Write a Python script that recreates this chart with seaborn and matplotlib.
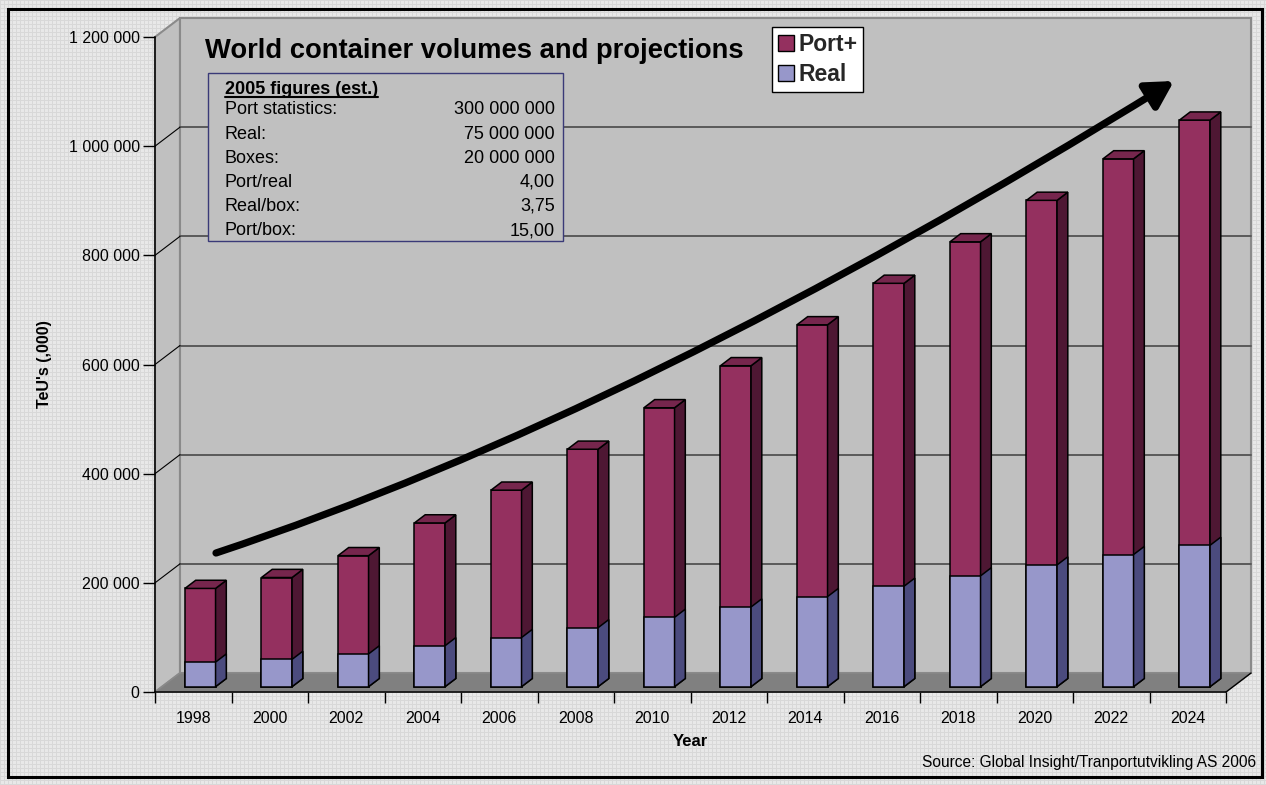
import numpy as np
import pandas as pd
import matplotlib
matplotlib.use("Agg")
import matplotlib.pyplot as plt
import seaborn as sns
from matplotlib.patches import Polygon, Rectangle, FancyArrowPatch, Patch
from matplotlib.path import Path
from matplotlib.transforms import ScaledTranslation, IdentityTransform
from matplotlib.ticker import FuncFormatter, FixedLocator

# ---- data (TeU's, thousands) ----
years = ["1998", "2000", "2002", "2004", "2006", "2008", "2010",
         "2012", "2014", "2016", "2018", "2020", "2022", "2024"]
real = [45000, 50000, 60000, 75000, 90000, 108000, 127000,
        146000, 165000, 184000, 203000, 223000, 242000, 259000]
port_plus = [135000, 150000, 180000, 225000, 270000, 327000, 384000,
             442000, 498000, 555000, 612000, 668000, 725000, 779000]
series_names = ["Port+", "Real"]
y_ticks = [0, 200000, 400000, 600000, 800000, 1000000, 1200000]

box_title = "2005 figures (est.)"
box_labels = ["Port statistics:", "Real:", "Boxes:", "Port/real", "Real/box:", "Port/box:"]
box_values = ["300 000 000", "75 000 000", "20 000 000", "4,00", "3,75", "15,00"]

title = "World container volumes and projections"
source = "Source: Global Insight/Tranportutvikling AS 2006"

# ---- styling ----
PORT_FRONT, PORT_SIDE, PORT_TOP = "#94305F", "#4E1733", "#76264D"
REAL_FRONT, REAL_SIDE = "#9797CA", "#4B4B7E"
WALL, FLOOR, WALL_EDGE, GRID = "#C0C0C0", "#808080", "#8A8A8A", "#5A5A5A"

sns.set_theme(style="white")
plt.rcParams["font.family"] = ["Liberation Sans", "DejaVu Sans"]

W, H = 1266, 785
fig = plt.figure(figsize=(W / 100, H / 100), dpi=100)


def fx(x, y):
    """pixel position (from top-left) -> figure fraction"""
    return x / W, 1 - y / H


# textured page background
yy, xx = np.mgrid[0:H, 0:W]
tex = np.full((H, W), 0.91)
tex[(xx % 4 == 0) | (yy % 4 == 0)] = 0.85
fig.figimage(np.dstack([tex] * 3), xo=0, yo=0, zorder=-5)

# front plane of the 3-D box
left, right, bottom, top = 155, 1226, 692, 37
ax = fig.add_axes([left / W, 1 - bottom / H, (right - left) / W, (bottom - top) / H])
ax.patch.set_visible(False)

df = pd.DataFrame({"year": years, "real": real, "port_plus": port_plus})
df["total"] = df["real"] + df["port_plus"]

sns.barplot(data=df, x="year", y="total", color=PORT_FRONT, saturation=1,
            width=0.4, errorbar=None, edgecolor="black", linewidth=1.1, ax=ax)
n_port = len(ax.patches)
sns.barplot(data=df, x="year", y="real", color=REAL_FRONT, saturation=1,
            width=0.4, errorbar=None, edgecolor="black", linewidth=1.1, ax=ax)
port_bars = ax.patches[:n_port]
real_bars = ax.patches[n_port:]

ax.set_xlim(-0.5, len(years) - 0.5)
ax.set_ylim(0, 1200000)

# depth of the box in pixels
DX, DY = 25.0, 19.0
D_FRONT, D_BACK = 0.28, 0.71


def P(x, y, d):
    X, Y = ax.transData.transform((x, y))
    return (X + d * DX, Y + d * DY)


def add_poly(pts, **kw):
    poly = Polygon(pts, closed=True, transform=IdentityTransform(), clip_on=False, **kw)
    ax.add_artist(poly)
    return poly


x0, x1 = ax.get_xlim()
y_top = ax.get_ylim()[1]
# side wall, back wall, floor
add_poly([P(x0, 0, 0), P(x0, 0, 1), P(x0, y_top, 1), P(x0, y_top, 0)],
         facecolor=WALL, edgecolor=WALL_EDGE, lw=1.5, zorder=0.5)
add_poly([P(x0, 0, 1), P(x1, 0, 1), P(x1, y_top, 1), P(x0, y_top, 1)],
         facecolor=WALL, edgecolor=WALL_EDGE, lw=1.5, zorder=0.5)
for v in y_ticks[1:-1]:
    ax.plot(*zip(P(x0, v, 1), P(x1, v, 1)), color=GRID, lw=1.4,
            transform=IdentityTransform(), clip_on=False, zorder=0.6)
    ax.plot(*zip(P(x0, v, 0), P(x0, v, 1)), color="black", lw=0.8,
            transform=IdentityTransform(), clip_on=False, zorder=0.6)
add_poly([P(x0, 0, 0), P(x1, 0, 0), P(x1, 0, 1), P(x0, 0, 1)],
         facecolor=FLOOR, edgecolor=WALL_EDGE, lw=1.0, zorder=0.7)
ax.plot(*zip(P(x1, 0, 0), P(x1, 0, 1)), color="black", lw=1.0,
        transform=IdentityTransform(), clip_on=False, zorder=0.8)

# bars: push the front faces into the box and add the side/top faces
shift = ScaledTranslation(D_FRONT * DX / 100, D_FRONT * DY / 100, fig.dpi_scale_trans)
for bars, side_c, top_c, z in [(port_bars, PORT_SIDE, PORT_TOP, 2.0),
                               (real_bars, REAL_SIDE, None, 3.0)]:
    for p in bars:
        p.set_transform(ax.transData + shift)
        p.set_clip_on(False)
        p.set_zorder(z)
        bx0, bw = p.get_x(), p.get_width()
        bx1 = bx0 + bw
        b0, b1 = p.get_y(), p.get_y() + p.get_height()
        add_poly([P(bx1, b0, D_FRONT), P(bx1, b0, D_BACK), P(bx1, b1, D_BACK), P(bx1, b1, D_FRONT)],
                 facecolor=side_c, edgecolor="black", lw=1.1, zorder=z + 0.1)
        if top_c is not None:
            add_poly([P(bx0, b1, D_FRONT), P(bx0, b1, D_BACK), P(bx1, b1, D_BACK), P(bx1, b1, D_FRONT)],
                     facecolor=top_c, edgecolor="black", lw=1.1, zorder=z + 0.1)

# axes, ticks and labels
for s in ["top", "right"]:
    ax.spines[s].set_visible(False)
for s in ["left", "bottom"]:
    ax.spines[s].set_color("black")
    ax.spines[s].set_linewidth(1.1)
    ax.spines[s].set_zorder(1.0)

ax.yaxis.set_major_locator(FixedLocator(y_ticks))
ax.yaxis.set_major_formatter(FuncFormatter(lambda v, _: f"{v:,.0f}".replace(",", " ")))
ax.tick_params(axis="y", which="major", left=True, direction="out", length=9,
               width=1.0, color="black", pad=2, labelsize=11.5, labelcolor="black")
ax.set_xticks(np.arange(len(years)))
ax.set_xticklabels(years)
ax.set_xticks(np.arange(len(years) + 1) - 0.5, minor=True)
ax.tick_params(axis="x", which="major", bottom=True, length=0, pad=13.5,
               labelsize=11.5, labelcolor="black")
ax.tick_params(axis="x", which="minor", bottom=True, direction="out", length=8,
               width=1.0, color="black")
ax.grid(False)

ax.set_xlabel("Year", fontsize=12, fontweight="bold", color="black")
ax.set_ylabel("TeU's (,000)", fontsize=11.5, fontweight="bold", color="black")
ax.xaxis.set_label_coords((690 - left) / (right - left), (bottom - 741) / (bottom - top))
ax.yaxis.set_label_coords((44 - left) / (right - left), 0.5)
ax.xaxis.label.set_va("center")
ax.yaxis.label.set_va("center")

# title
fig.text(*fx(205, 58), title, fontsize=19.7, fontweight="bold", ha="left",
         va="baseline", color="black")

# 2005 figures box
fig.add_artist(Rectangle(fx(208, 241), (563 - 208) / W, (241 - 73) / H,
                         transform=fig.transFigure, facecolor=WALL,
                         edgecolor="#3A3A78", lw=1.0, zorder=4))
hdr = fig.text(*fx(225, 93.5), box_title, fontsize=13, fontweight="bold",
               ha="left", va="baseline", color="black", zorder=5)
for i, (lab, val) in enumerate(zip(box_labels, box_values)):
    yb = 114.5 + i * 24.1
    fig.text(*fx(225, yb), lab, fontsize=13, ha="left", va="baseline",
             color="black", zorder=5)
    fig.text(*fx(555, yb), val, fontsize=13, ha="right", va="baseline",
             color="black", zorder=5)
fig.canvas.draw()
bb = hdr.get_window_extent()
uy = H - 96.5
fig.add_artist(plt.Line2D([bb.x0 / W, bb.x1 / W], [uy / H, uy / H],
                          transform=fig.transFigure, color="black", lw=1.5, zorder=5))

# growth arrow
p0, p1, p2 = fx(216, 553), fx(636, 414), fx(1174, 81)
arrow = FancyArrowPatch(path=Path([p0, p1, p2], [Path.MOVETO, Path.CURVE3, Path.CURVE3]),
                        arrowstyle="-|>,head_length=16,head_width=9",
                        mutation_scale=1, lw=5.2, color="black",
                        transform=fig.transFigure, zorder=6)
fig.add_artist(arrow)

# legend
handles = [Patch(facecolor=PORT_FRONT, edgecolor="black", lw=1.0),
           Patch(facecolor=REAL_FRONT, edgecolor="black", lw=1.0)]
leg = fig.legend(handles, series_names, loc="upper left", bbox_to_anchor=fx(772, 27),
                 bbox_transform=fig.transFigure, frameon=True, fancybox=False,
                 edgecolor="black", framealpha=1, facecolor="white",
                 prop=dict(weight="bold", size=16.5), handlelength=0.7,
                 handleheight=0.7, handletextpad=0.2, borderpad=0.25,
                 labelspacing=0.33, borderaxespad=0)
leg.get_frame().set_linewidth(1.0)

# source note
fig.text(*fx(1256, 762), source, fontsize=11.2, ha="right", va="center", color="black")

# page border
fig.add_artist(Rectangle(fx(8, 777), (1262 - 8) / W, (777 - 9) / H,
                         transform=fig.transFigure, fill=False, edgecolor="black",
                         lw=2.2, zorder=10))

fig.savefig("out.png", dpi=100)
